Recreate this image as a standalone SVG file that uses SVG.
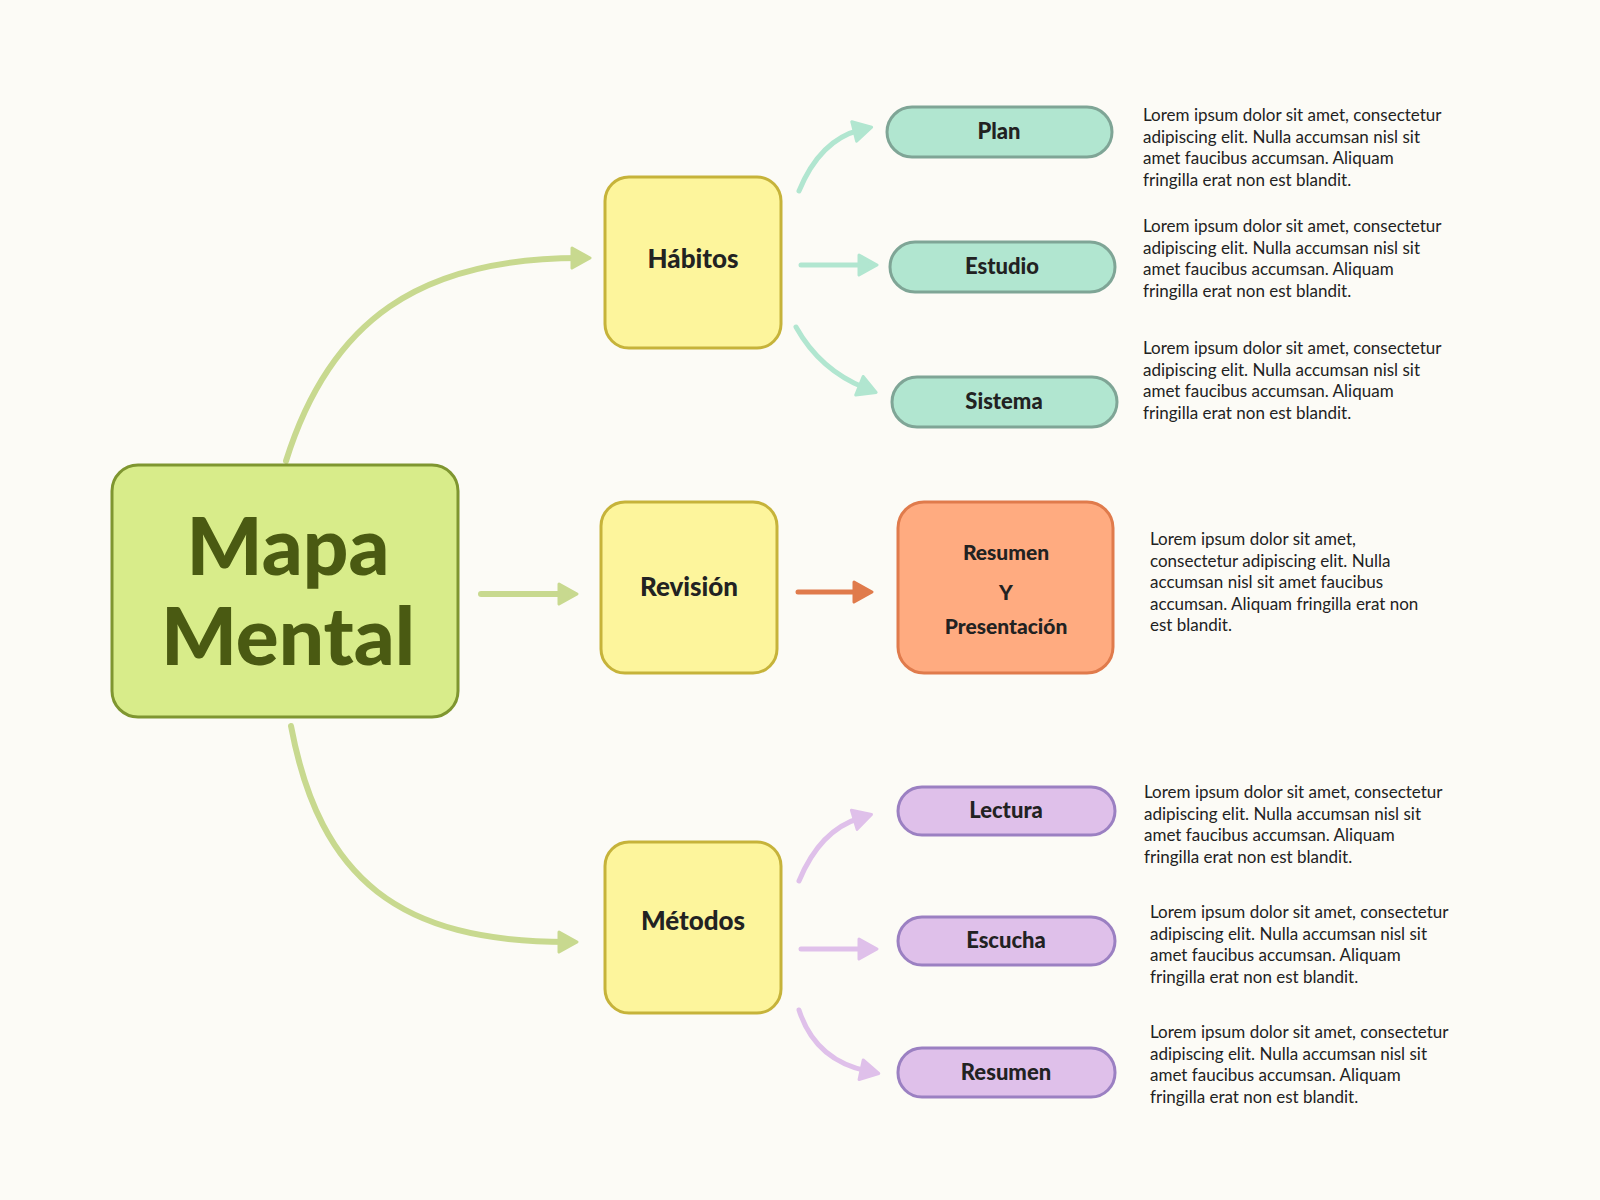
<svg xmlns="http://www.w3.org/2000/svg" width="1600" height="1200" viewBox="0 0 1600 1200">
<style>
.t{font-family:"Lato","DejaVu Sans",sans-serif;font-weight:900;fill:#222;text-anchor:middle}
.d{font-family:"Lato","Noto Sans",sans-serif;font-size:17px;fill:#222}
.c{fill:none;stroke-linecap:round}
</style>
<defs>
<marker id="ag" markerUnits="userSpaceOnUse" markerWidth="30" markerHeight="30" refX="10" refY="12" orient="auto"><path d="M2,2 L20,12 L2,22 Z" fill="#c8d98f" stroke="#c8d98f" stroke-width="3" stroke-linejoin="round"/></marker>
<marker id="at" markerUnits="userSpaceOnUse" markerWidth="30" markerHeight="30" refX="8" refY="12" orient="auto"><path d="M2,2 L20,12 L2,22 Z" fill="#b1e6d0" stroke="#b1e6d0" stroke-width="3" stroke-linejoin="round"/></marker>
<marker id="ap" markerUnits="userSpaceOnUse" markerWidth="30" markerHeight="30" refX="8" refY="12" orient="auto"><path d="M2,2 L20,12 L2,22 Z" fill="#dfc0ea" stroke="#dfc0ea" stroke-width="3" stroke-linejoin="round"/></marker>
<marker id="ao" markerUnits="userSpaceOnUse" markerWidth="30" markerHeight="30" refX="8" refY="12" orient="auto"><path d="M2,2 L20,12 L2,22 Z" fill="#e07b4c" stroke="#e07b4c" stroke-width="3" stroke-linejoin="round"/></marker>
</defs>
<rect width="1600" height="1200" fill="#fcfbf6"/>
<g id="connectors">
<path class="c" d="M286,461 C330,320 420,258 580,258" stroke="#c8d98f" stroke-width="6" marker-end="url(#ag)"/>
<path class="c" d="M481,594 L567,594" stroke="#c8d98f" stroke-width="6" marker-end="url(#ag)"/>
<path class="c" d="M291,726 C320,880 400,942 567,942" stroke="#c8d98f" stroke-width="6" marker-end="url(#ag)"/>
<path class="c" d="M799,191 Q820,140 860,130" stroke="#b1e6d0" stroke-width="5" marker-end="url(#at)"/>
<path class="c" d="M801,265 L865,265" stroke="#b1e6d0" stroke-width="5" marker-end="url(#at)"/>
<path class="c" d="M796,327 Q820,370 865,388" stroke="#b1e6d0" stroke-width="5" marker-end="url(#at)"/>
<path class="c" d="M798,592 L860,592" stroke="#e07b4c" stroke-width="5" marker-end="url(#ao)"/>
<path class="c" d="M799,881 Q820,830 860,818" stroke="#dfc0ea" stroke-width="5" marker-end="url(#ap)"/>
<path class="c" d="M801,949 L865,949" stroke="#dfc0ea" stroke-width="5" marker-end="url(#ap)"/>
<path class="c" d="M799,1010 Q815,1060 867,1071" stroke="#dfc0ea" stroke-width="5" marker-end="url(#ap)"/>
</g>
<g id="main"><rect x="112" y="465" width="346" height="252" rx="26" fill="#d8ec8a" stroke="#7f9630" stroke-width="3"/>
<text class="t" x="288" y="575" font-size="80" style="fill:#4a5a12">Mapa</text>
<text class="t" x="288" y="665" font-size="80" style="fill:#4a5a12">Mental</text></g>
<g id="habitos"><rect x="605" y="177" width="176" height="171" rx="24" fill="#fdf59c" stroke="#c6b33a" stroke-width="3"/><text class="t" x="693" y="268" font-size="26">Hábitos</text></g>
<g id="revision"><rect x="601" y="502" width="176" height="171" rx="24" fill="#fdf59c" stroke="#c6b33a" stroke-width="3"/><text class="t" x="689" y="596" font-size="26">Revisión</text></g>
<g id="metodos"><rect x="605" y="842" width="176" height="171" rx="24" fill="#fdf59c" stroke="#c6b33a" stroke-width="3"/><text class="t" x="693" y="930" font-size="26">Métodos</text></g>
<g id="plan"><rect x="887" y="107" width="225" height="50" rx="25" fill="#b1e6d0" stroke="#7fa596" stroke-width="3"/><text class="t" x="999" y="139" font-size="22">Plan</text></g>
<g id="estudio"><rect x="890" y="242" width="225" height="50" rx="25" fill="#b1e6d0" stroke="#7fa596" stroke-width="3"/><text class="t" x="1002" y="274" font-size="22">Estudio</text></g>
<g id="sistema"><rect x="892" y="377" width="225" height="50" rx="25" fill="#b1e6d0" stroke="#7fa596" stroke-width="3"/><text class="t" x="1004" y="409" font-size="22">Sistema</text></g>
<g id="resumenp"><rect x="898" y="502" width="215" height="171" rx="26" fill="#ffab80" stroke="#e07b4c" stroke-width="3"/>
<text class="t" x="1006" y="560" font-size="21">Resumen</text><text class="t" x="1006" y="600" font-size="21">Y</text><text class="t" x="1006" y="634" font-size="21">Presentación</text></g>
<g id="lectura"><rect x="898" y="787" width="217" height="48" rx="24" fill="#dfc0ea" stroke="#9b80c2" stroke-width="3"/><text class="t" x="1006" y="818" font-size="22">Lectura</text></g>
<g id="escucha"><rect x="898" y="917" width="217" height="48" rx="24" fill="#dfc0ea" stroke="#9b80c2" stroke-width="3"/><text class="t" x="1006" y="948" font-size="22">Escucha</text></g>
<g id="resumen"><rect x="898" y="1048" width="217" height="49" rx="24" fill="#dfc0ea" stroke="#9b80c2" stroke-width="3"/><text class="t" x="1006" y="1080" font-size="22">Resumen</text></g>
<g id="texts">
<text class="d" x="1143" y="121"><tspan x="1143">Lorem ipsum dolor sit amet, consectetur</tspan><tspan x="1143" dy="21.5">adipiscing elit. Nulla accumsan nisl sit</tspan><tspan x="1143" dy="21.5">amet faucibus accumsan. Aliquam</tspan><tspan x="1143" dy="21.5">fringilla erat non est blandit.</tspan></text>
<text class="d" x="1143" y="232"><tspan x="1143">Lorem ipsum dolor sit amet, consectetur</tspan><tspan x="1143" dy="21.5">adipiscing elit. Nulla accumsan nisl sit</tspan><tspan x="1143" dy="21.5">amet faucibus accumsan. Aliquam</tspan><tspan x="1143" dy="21.5">fringilla erat non est blandit.</tspan></text>
<text class="d" x="1143" y="354"><tspan x="1143">Lorem ipsum dolor sit amet, consectetur</tspan><tspan x="1143" dy="21.5">adipiscing elit. Nulla accumsan nisl sit</tspan><tspan x="1143" dy="21.5">amet faucibus accumsan. Aliquam</tspan><tspan x="1143" dy="21.5">fringilla erat non est blandit.</tspan></text>
<text class="d" x="1150" y="545"><tspan x="1150">Lorem ipsum dolor sit amet,</tspan><tspan x="1150" dy="21.5">consectetur adipiscing elit. Nulla</tspan><tspan x="1150" dy="21.5">accumsan nisl sit amet faucibus</tspan><tspan x="1150" dy="21.5">accumsan. Aliquam fringilla erat non</tspan><tspan x="1150" dy="21.5">est blandit.</tspan></text>
<text class="d" x="1144" y="798"><tspan x="1144">Lorem ipsum dolor sit amet, consectetur</tspan><tspan x="1144" dy="21.5">adipiscing elit. Nulla accumsan nisl sit</tspan><tspan x="1144" dy="21.5">amet faucibus accumsan. Aliquam</tspan><tspan x="1144" dy="21.5">fringilla erat non est blandit.</tspan></text>
<text class="d" x="1150" y="918"><tspan x="1150">Lorem ipsum dolor sit amet, consectetur</tspan><tspan x="1150" dy="21.5">adipiscing elit. Nulla accumsan nisl sit</tspan><tspan x="1150" dy="21.5">amet faucibus accumsan. Aliquam</tspan><tspan x="1150" dy="21.5">fringilla erat non est blandit.</tspan></text>
<text class="d" x="1150" y="1038"><tspan x="1150">Lorem ipsum dolor sit amet, consectetur</tspan><tspan x="1150" dy="21.5">adipiscing elit. Nulla accumsan nisl sit</tspan><tspan x="1150" dy="21.5">amet faucibus accumsan. Aliquam</tspan><tspan x="1150" dy="21.5">fringilla erat non est blandit.</tspan></text>
</g>
</svg>
